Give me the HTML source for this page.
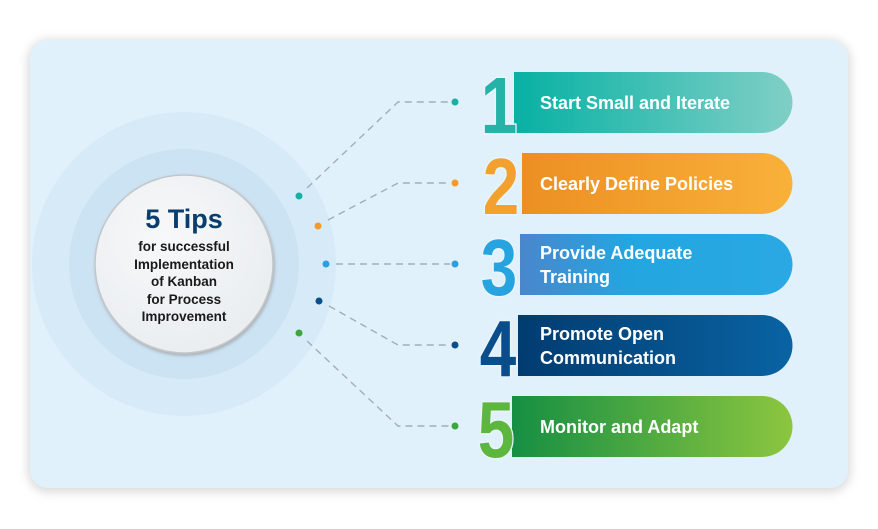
<!DOCTYPE html>
<html><head><meta charset="utf-8"><style>
html,body{margin:0;padding:0;background:#fff;width:878px;height:529px;overflow:hidden}
svg{display:block}
text{font-family:"Liberation Sans",sans-serif}
</style></head><body>
<svg width="878" height="529" viewBox="0 0 878 529" xmlns="http://www.w3.org/2000/svg">
<defs>
<filter id="sh" x="-10%" y="-10%" width="120%" height="120%"><feGaussianBlur stdDeviation="5"/></filter>
<filter id="csh" x="-20%" y="-20%" width="140%" height="140%"><feDropShadow dx="1" dy="2" stdDeviation="1.5" flood-color="#999" flood-opacity="0.7"/></filter>
<linearGradient id="g1"><stop offset="0" stop-color="#07b1a4"/><stop offset="1" stop-color="#80cfc6"/></linearGradient>
<linearGradient id="g2"><stop offset="0" stop-color="#ec8f22"/><stop offset="1" stop-color="#f9b13a"/></linearGradient>
<linearGradient id="g3"><stop offset="0" stop-color="#4a86cc"/><stop offset="0.4" stop-color="#23a6e0"/><stop offset="1" stop-color="#2aa8e4"/></linearGradient>
<linearGradient id="g4"><stop offset="0" stop-color="#013c70"/><stop offset="1" stop-color="#0963a3"/></linearGradient>
<linearGradient id="g5"><stop offset="0" stop-color="#168f43"/><stop offset="1" stop-color="#8cc63f"/></linearGradient>
<radialGradient id="wc" cx="0.4" cy="0.35" r="0.7"><stop offset="0" stop-color="#f7f8f9"/><stop offset="1" stop-color="#e9edf0"/></radialGradient>
</defs>
<rect x="28" y="40" width="822" height="452" rx="20" fill="#d8d8d8" filter="url(#sh)"/>
<rect x="30" y="40" width="818" height="448" rx="18" fill="#e1f1fc"/>
<circle cx="184" cy="264" r="152" fill="#d7eaf8"/>
<circle cx="184" cy="264" r="115" fill="#cce3f4"/>
<circle cx="184" cy="264" r="89" fill="url(#wc)" stroke="#c4c7ca" stroke-width="1.5" filter="url(#csh)"/>
<text x="184" y="228" text-anchor="middle" font-size="27" font-weight="bold" fill="#083e6e">5 Tips</text>
<g font-size="13.5" font-weight="bold" fill="#1a1a1a" text-anchor="middle">
<text x="184" y="251">for successful</text>
<text x="184" y="269">Implementation</text>
<text x="184" y="286">of Kanban</text>
<text x="184" y="304">for Process</text>
<text x="184" y="321">Improvement</text>
</g>
<g fill="none" stroke="#a3adb8" stroke-width="1.4" stroke-dasharray="7,5">
<path d="M307 188 L398 102 L450 102"/>
<path d="M328 220 L398 183 L450 183"/>
<path d="M336 264 L450 264"/>
<path d="M329 306 L398 345 L450 345"/>
<path d="M307 341 L398 426 L450 426"/>
</g>
<circle cx="299" cy="196" r="3.5" fill="#17b0a2"/>
<circle cx="318" cy="226" r="3.5" fill="#f39a2a"/>
<circle cx="326" cy="264" r="3.5" fill="#2b9fdf"/>
<circle cx="319" cy="301" r="3.5" fill="#0b4f8a"/>
<circle cx="299" cy="333" r="3.5" fill="#3ca83b"/>
<circle cx="455" cy="102" r="3.5" fill="#17b0a2"/>
<circle cx="455" cy="183" r="3.5" fill="#f39a2a"/>
<circle cx="455" cy="264" r="3.5" fill="#2b9fdf"/>
<circle cx="455" cy="345" r="3.5" fill="#0b4f8a"/>
<circle cx="455" cy="426" r="3.5" fill="#3ca83b"/>
<g>
<path d="M514 72 H762 A30.5 30.5 0 0 1 762 133 H514 Z" fill="url(#g1)"/>
<path d="M522 153 H762 A30.5 30.5 0 0 1 762 214 H522 Z" fill="url(#g2)"/>
<path d="M520 234 H762 A30.5 30.5 0 0 1 762 295 H520 Z" fill="url(#g3)"/>
<path d="M518 315 H762 A30.5 30.5 0 0 1 762 376 H518 Z" fill="url(#g4)"/>
<path d="M512 396 H762 A30.5 30.5 0 0 1 762 457 H512 Z" fill="url(#g5)"/>
</g>
<g font-size="80" font-weight="bold" stroke="#e8f5fc" stroke-width="3" paint-order="stroke" text-anchor="middle">
<text transform="translate(499 133) scale(0.82 1)" fill="#26b3a7">1</text>
<text transform="translate(501 214) scale(0.82 1)" fill="#f2a02e">2</text>
<text transform="translate(499 295) scale(0.82 1)" fill="#27a4e0">3</text>
<text transform="translate(498 376) scale(0.82 1)" fill="#0a4d8a">4</text>
<text transform="translate(496 457) scale(0.82 1)" fill="#5db63e">5</text>
</g>
<g font-size="18" font-weight="bold" fill="#fff">
<text x="540" y="109">Start Small and Iterate</text>
<text x="540" y="190">Clearly Define Policies</text>
<text x="540" y="259">Provide Adequate</text>
<text x="540" y="283">Training</text>
<text x="540" y="340">Promote Open</text>
<text x="540" y="364">Communication</text>
<text x="540" y="433">Monitor and Adapt</text>
</g>
</svg>
</body></html>
